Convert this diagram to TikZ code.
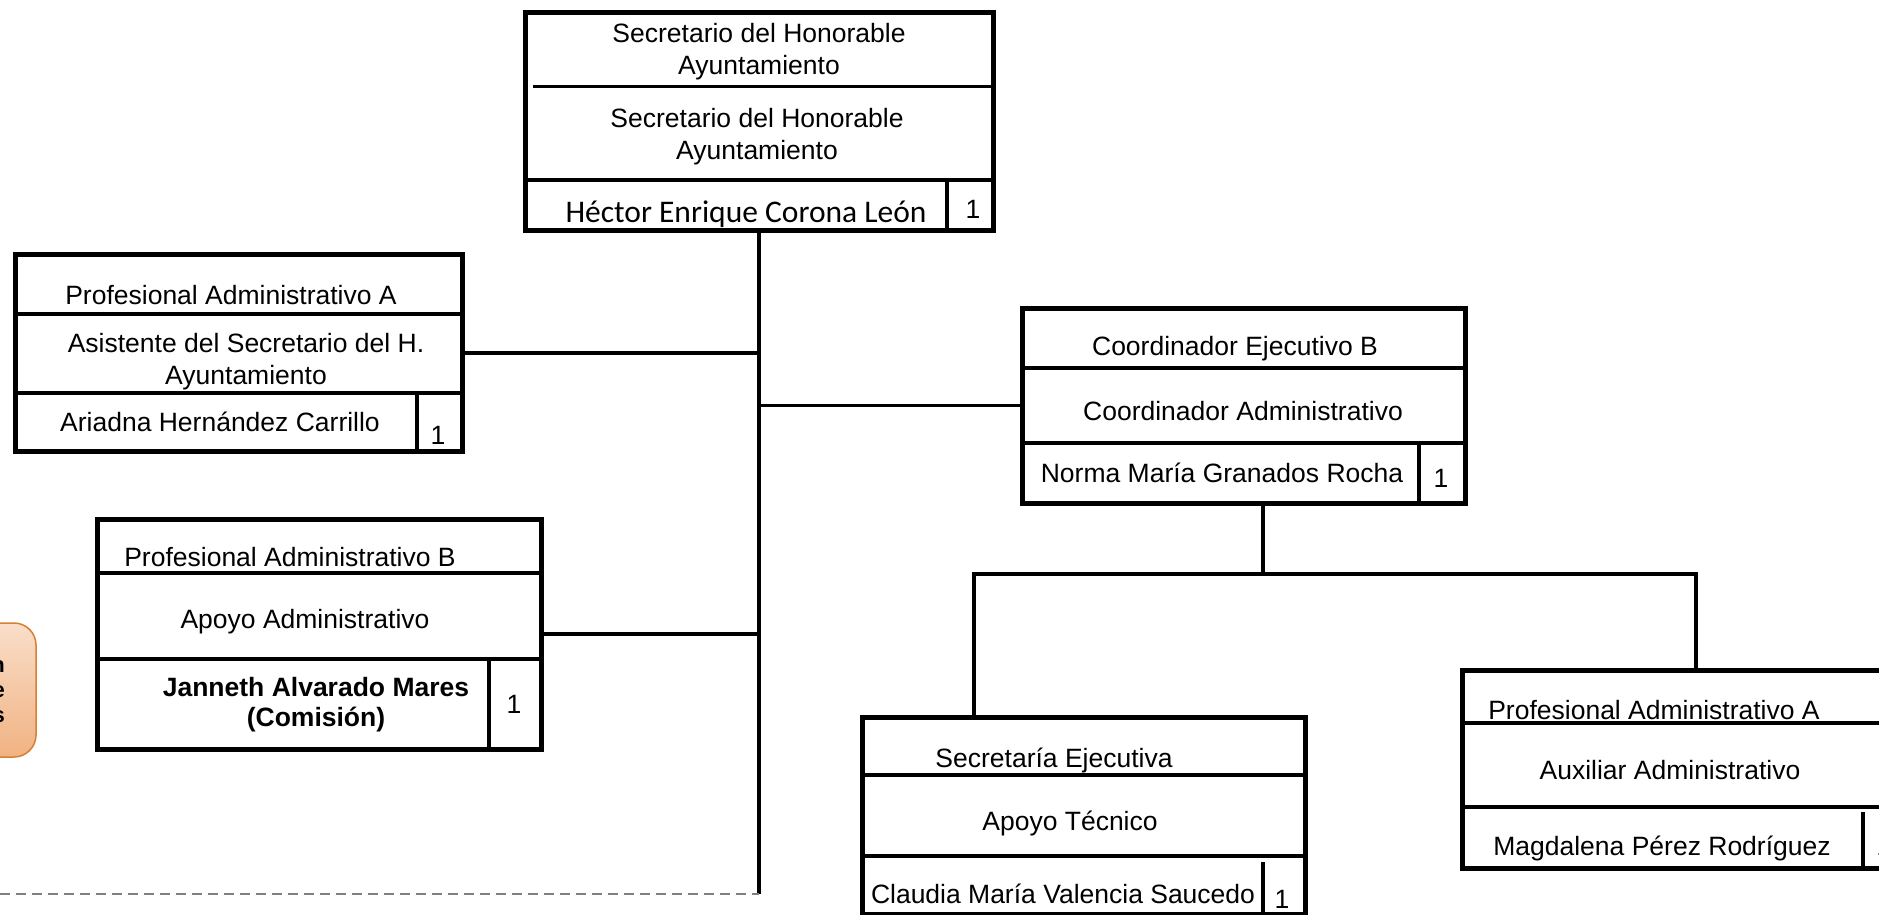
\documentclass[tikz,border=0pt]{standalone}
\usepackage{fontspec}
\setmainfont{Liberation Sans}
\newfontfamily\calibri{Carlito}
\usetikzlibrary{positioning,calc}
\definecolor{notatop}{RGB}{249,222,202}
\definecolor{notabot}{RGB}{241,178,130}
\definecolor{notaline}{RGB}{214,128,52}
\definecolor{dashgray}{RGB}{128,128,128}

\begin{document}
\begin{tikzpicture}[x=1pt,y=-1pt]
\tikzstyle{box}=[draw, line width=5pt, fill=white, inner sep=0pt]
\tikzstyle{txt}=[inner sep=0pt, align=center, font=\fontsize{26.5}{32}\selectfont]
\tikzstyle{div}=[line width=4pt]
\tikzstyle{link}=[line width=3.5pt]
\useasboundingbox (0,0) rectangle (1879,915);
\fill[white] (0,0) rectangle (1879,915);

% nota lateral (cortada)
\node[draw=notaline, line width=1.5pt, rounded corners=22pt, top color=notatop, bottom color=notabot, minimum width=152pt, minimum height=134pt](nota) at (-40,690) {};
\node[txt, anchor=base east, font=\bfseries\fontsize{22}{25}\selectfont](nota1) at (5,672) {n};
\node[txt, anchor=base east, font=\bfseries\fontsize{22}{25}\selectfont](nota2) at (5,697) {e};
\node[txt, anchor=base east, font=\bfseries\fontsize{22}{25}\selectfont](nota3) at (5,722) {s};

% Secretario
\node[box, minimum width=468pt, minimum height=217pt](sec) at (759,121.5) {};
\draw[line width=3pt] (533,87) -- (993,87);
\draw[div] (525,180) -- (993,180);
\draw[div] (947,180) -- (947,230);
\node[txt](sec-t) at (759,52) {Secretario del Honorable\\Ayuntamiento};
\node[txt](sec-p) at (757,137) {Secretario del Honorable\\Ayuntamiento};
\node[txt, anchor=base, font=\calibri\fontsize{31.5}{34}\selectfont](sec-n) at (746,222) {Héctor Enrique Corona León};
\node[txt, anchor=base](sec-1) at (973,218) {1};

% Asistente
\node[box, minimum width=447pt, minimum height=197pt](asis) at (238.5,353) {};
\draw[div] (15,314) -- (462,314);
\draw[div] (15,393) -- (462,393);
\draw[div] (417,393) -- (417,451);
\node[txt, anchor=base](asis-t) at (231,304) {Profesional Administrativo A};
\node[txt](asis-p) at (246,362) {Asistente del Secretario del H.\\Ayuntamiento};
\node[txt, anchor=base](asis-n) at (220,431) {Ariadna Hernández Carrillo};
\node[txt, anchor=base](asis-1) at (438,444) {1};

% Apoyo administrativo
\node[box, minimum width=444pt, minimum height=230pt](apoyo) at (319,634) {};
\draw[div] (97,573) -- (541,573);
\draw[div] (97,659) -- (541,659);
\draw[div] (489,659) -- (489,749);
\node[txt, anchor=base](apoyo-t) at (290,566) {Profesional Administrativo B};
\node[txt, anchor=base](apoyo-p) at (305,628) {Apoyo Administrativo};
\node[txt, font=\bfseries\fontsize{26.5}{30}\selectfont](apoyo-n) at (316,705) {Janneth Alvarado Mares\\(Comisión)};
\node[txt, anchor=base](apoyo-1) at (514,713) {1};

% Coordinador
\node[box, minimum width=443pt, minimum height=195pt](coord) at (1243.5,405.5) {};
\draw[div] (1022,368) -- (1465,368);
\draw[div] (1022,443) -- (1465,443);
\draw[div] (1419,443) -- (1419,503);
\node[txt, anchor=base](coord-t) at (1235,355) {Coordinador Ejecutivo B};
\node[txt, anchor=base](coord-p) at (1243,420) {Coordinador Administrativo};
\node[txt, anchor=base](coord-n) at (1222,482) {Norma María Granados Rocha};
\node[txt, anchor=base](coord-1) at (1441,487) {1};

% Secretaria ejecutiva
\node[box, minimum width=443pt, minimum height=197pt](secej) at (1083.5,815.5) {};
\draw[div] (862,775) -- (1305,775);
\draw[div] (862,856) -- (1305,856);
\draw[div] (1263,862) -- (1263,914);
\node[txt, anchor=base](secej-t) at (1054,767) {Secretaría Ejecutiva};
\node[txt, anchor=base](secej-p) at (1070,830) {Apoyo Técnico};
\node[txt, anchor=base](secej-n) at (1063,903) {Claudia María Valencia Saucedo};
\node[txt, anchor=base](secej-1) at (1282,908) {1};

% Auxiliar administrativo
\node[box, minimum width=448pt, minimum height=198pt](auxad) at (1686,769) {};
\draw[div] (1462,723) -- (1910,723);
\draw[div] (1462,807) -- (1910,807);
\draw[div] (1863,812) -- (1863,868);
\node[txt, anchor=base](auxad-t) at (1654,719) {Profesional Administrativo A};
\node[txt, anchor=base](auxad-p) at (1670,779) {Auxiliar Administrativo};
\node[txt, anchor=base](auxad-n) at (1662,855) {Magdalena Pérez Rodríguez};
\node[txt, anchor=base](auxad-1) at (1884,855) {1};

% conectores
\coordinate (trunkend) at (759,894);
\coordinate (dashstart) at (0,894);
\coordinate (cdrop) at (1263,574);
\coordinate (busL) at (974,574);
\coordinate (busR) at (1696,574);
\draw[link] (sec.south) -- (trunkend);
\draw[link] (asis.east) -- (asis.east -| trunkend);
\draw[link] (apoyo.east) -- (apoyo.east -| trunkend);
\draw[link] (coord.west -| trunkend) -- (coord.west);
\draw[link] (coord.south -| cdrop) -- (cdrop);
\draw[link] (secej.north -| busL) -- (busL) -- (busR) -- (auxad.north -| busR);
\draw[dashgray, line width=2.5pt, dash pattern=on 10pt off 6pt] (dashstart) -- (trunkend);
\end{tikzpicture}
\end{document}
